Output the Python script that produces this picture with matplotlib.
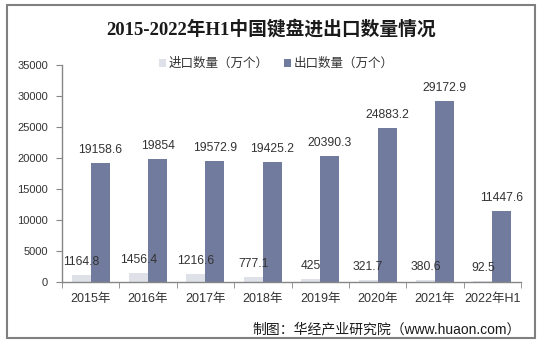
import matplotlib
matplotlib.use("Agg")
import matplotlib.pyplot as plt
from matplotlib.patches import Rectangle
import numpy as np

categories = ["2015年", "2016年", "2017年", "2018年", "2019年", "2020年", "2021年", "2022年H1"]
imports = [1164.8, 1456.4, 1216.6, 777.1, 425, 321.7, 380.6, 92.5]
exports = [19158.6, 19854, 19572.9, 19425.2, 20390.3, 24883.2, 29172.9, 11447.6]
import_labels = ["1164.8", "1456.4", "1216.6", "777.1", "425", "321.7", "380.6", "92.5"]
export_labels = ["19158.6", "19854", "19572.9", "19425.2", "20390.3", "24883.2", "29172.9", "11447.6"]
series_names = ["进口数量（万个）", "出口数量（万个）"]
title = "2015-2022年H1中国键盘进出口数量情况"
source = "制图：华经产业研究院（www.huaon.com）"

plt.rcParams['font.family'] = ['Liberation Sans', 'Noto Sans CJK SC', 'DejaVu Sans']

W, H = 542, 345
fig = plt.figure(figsize=(W / 100, H / 100), dpi=100)
ax = fig.add_axes([62 / W, 1 - 282 / H, (521 - 62) / W, (282 - 65) / H])

c_imp = "#dfe1e8"
c_exp = "#717b9d"
x = np.arange(len(categories))
bw = 0.332
ax.bar(x - bw / 2, imports, width=bw, color=c_imp, label=series_names[0])
ax.bar(x + bw / 2, exports, width=bw, color=c_exp, label=series_names[1])

for xi, v, t in zip(x, imports, import_labels):
    ax.annotate(t, (xi - bw / 2, v), xytext=(0, 9.4), textcoords="offset points",
                ha="center", va="center", fontsize=8.7, color="#333333")
for xi, v, t in zip(x, exports, export_labels):
    ax.annotate(t, (xi + bw / 2, v), xytext=(0, 9.4), textcoords="offset points",
                ha="center", va="center", fontsize=8.7, color="#333333")

ax.set_xlim(-0.5, len(categories) - 0.5)
ax.set_ylim(0, 35000)
ax.set_yticks(np.arange(0, 35001, 5000))
ax.set_xticks(x)
ax.set_xticklabels(categories, fontsize=9, color="#333333")
ax.set_xticks(np.arange(-0.5, len(categories), 1), minor=True)
ax.tick_params(axis="x", which="major", length=0, pad=8)
ax.tick_params(axis="x", which="minor", length=4, color="#868686", direction="out")
ax.tick_params(axis="y", length=4, color="#868686", labelsize=8, labelcolor="#333333", pad=6)
for s in ["top", "right"]:
    ax.spines[s].set_visible(False)
for s in ["left", "bottom"]:
    ax.spines[s].set_color("#868686")
    ax.spines[s].set_linewidth(1.0)

fig.text(271 / W, 1 - 29 / H, title, ha="center", va="center", fontsize=13.5,
         fontweight="bold", family=['Liberation Serif', 'Noto Sans CJK SC'], color="#1a1a1a")

fig.legend(loc="center", bbox_to_anchor=(276 / W, 1 - 64 / H), ncol=2, frameon=False,
           fontsize=9, handlelength=0.6, handleheight=0.6, handletextpad=0.2,
           columnspacing=1.2, labelcolor="#333333")

fig.text(521 / W, 1 - 329 / H, source, ha="right", va="center", fontsize=10, color="#1a1a1a")

fig.patches.append(Rectangle((7 / W, 1 - 338 / H), (535 - 7) / W, (338 - 5) / H,
                             transform=fig.transFigure, fill=False,
                             edgecolor="#808080", linewidth=1.5))

fig.savefig("out.png", dpi=100)
